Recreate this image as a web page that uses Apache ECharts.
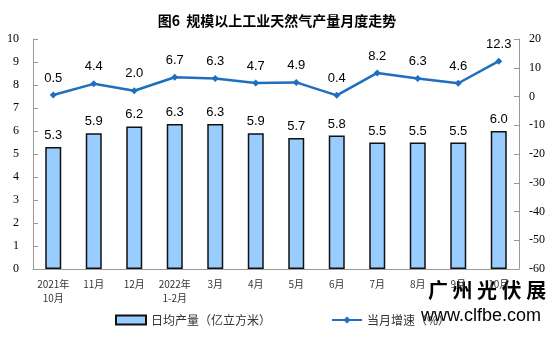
<!DOCTYPE html>
<html>
<head>
<meta charset="utf-8">
<script src="https://cdn.jsdelivr.net/npm/echarts@6/dist/echarts.min.js"></script>
<style>
  html, body { margin: 0; padding: 0; background: #fff; }
  #main { width: 554px; height: 353px; }
</style>
</head>
<body>
<div id="main"></div>
<script>
// 月份
var months = ['2021年\n10月', '11月', '12月', '2022年\n1-2月', '3月', '4月', '5月', '6月', '7月', '8月', '9月', '10月'];
// 日均产量（亿立方米）
var dailyOutput = [5.3, 5.9, 6.2, 6.3, 6.3, 5.9, 5.7, 5.8, 5.5, 5.5, 5.5, 6.0];
// 当月增速（%）
var growthRate = [0.5, 4.4, 2.0, 6.7, 6.3, 4.7, 4.9, 0.4, 8.2, 6.3, 4.6, 12.3];

var myChart = echarts.init(document.getElementById('main'));

var serif = '"Liberation Serif", "Times New Roman", serif';
var sans = '"Liberation Sans", Arial, sans-serif';
var cjk = '"Noto Sans CJK SC", sans-serif';

myChart.setOption({
    animation: false,
    title: {
        text: '图6  规模以上工业天然气产量月度走势',
        left: 'center',
        top: 9,
        textStyle: { fontFamily: cjk, fontSize: 14, fontWeight: 'bold', color: '#000' }
    },
    grid: { left: 33, right: 35, top: 39, bottom: 84 },
    legend: {
        bottom: 22,
        left: 110,
        itemGap: 60,
        itemWidth: 30,
        itemHeight: 9,
        textStyle: { fontFamily: cjk, fontSize: 12, color: '#333' },
        data: [
            { name: '日均产量（亿立方米）', icon: 'rect' },
            { name: '当月增速（%）' }
        ]
    },
    xAxis: {
        type: 'category',
        data: months,
        axisLine: { lineStyle: { color: '#999' } },
        axisTick: { lineStyle: { color: '#999' }, inside: true },
        axisLabel: { fontFamily: cjk, fontSize: 10, color: '#333', interval: 0, margin: 8, lineHeight: 14 }
    },
    yAxis: [{
        type: 'value',
        min: 0, max: 10, interval: 1,
        splitLine: { show: false },
        axisLine: { show: true, lineStyle: { color: '#999' } },
        axisTick: { show: true, inside: true, lineStyle: { color: '#999' } },
        axisLabel: { fontFamily: serif, fontSize: 12, color: '#000', margin: 14 }
    }, {
        type: 'value',
        min: -60, max: 20, interval: 10,
        splitLine: { show: false },
        axisLine: { show: true, lineStyle: { color: '#999' } },
        axisTick: { show: true, inside: true, lineStyle: { color: '#999' } },
        axisLabel: { fontFamily: serif, fontSize: 12, color: '#000', margin: 10 }
    }],
    series: [{
        name: '日均产量（亿立方米）',
        type: 'bar',
        data: dailyOutput,
        barWidth: 16,
        itemStyle: { color: '#99CCFF', borderColor: '#111', borderWidth: 1.5 },
        label: {
            show: true, position: 'top', distance: 5,
            fontFamily: sans, fontSize: 13, color: '#000',
            formatter: function (p) { return p.value.toFixed(1); }
        }
    }, {
        name: '当月增速（%）',
        type: 'line',
        yAxisIndex: 1,
        data: growthRate,
        symbol: 'diamond',
        symbolSize: 7,
        lineStyle: { color: '#1F6EC0', width: 2.5 },
        itemStyle: { color: '#1F6EC0' },
        label: {
            show: true, position: 'top', distance: 7,
            fontFamily: sans, fontSize: 13, color: '#000',
            formatter: function (p) { return p.value.toFixed(1); }
        }
    }],
    graphic: [{
        type: 'text',
        left: 428,
        top: 280,
        style: { text: '广 州 光 伏 展', font: 'bold 20px "Noto Sans CJK SC"', fill: '#000' }
    }, {
        type: 'text',
        left: 421,
        top: 307,
        style: { text: 'www.clfbe.com', font: '18px "Liberation Sans"', fill: '#000' }
    }]
});
</script>
</body>
</html>
